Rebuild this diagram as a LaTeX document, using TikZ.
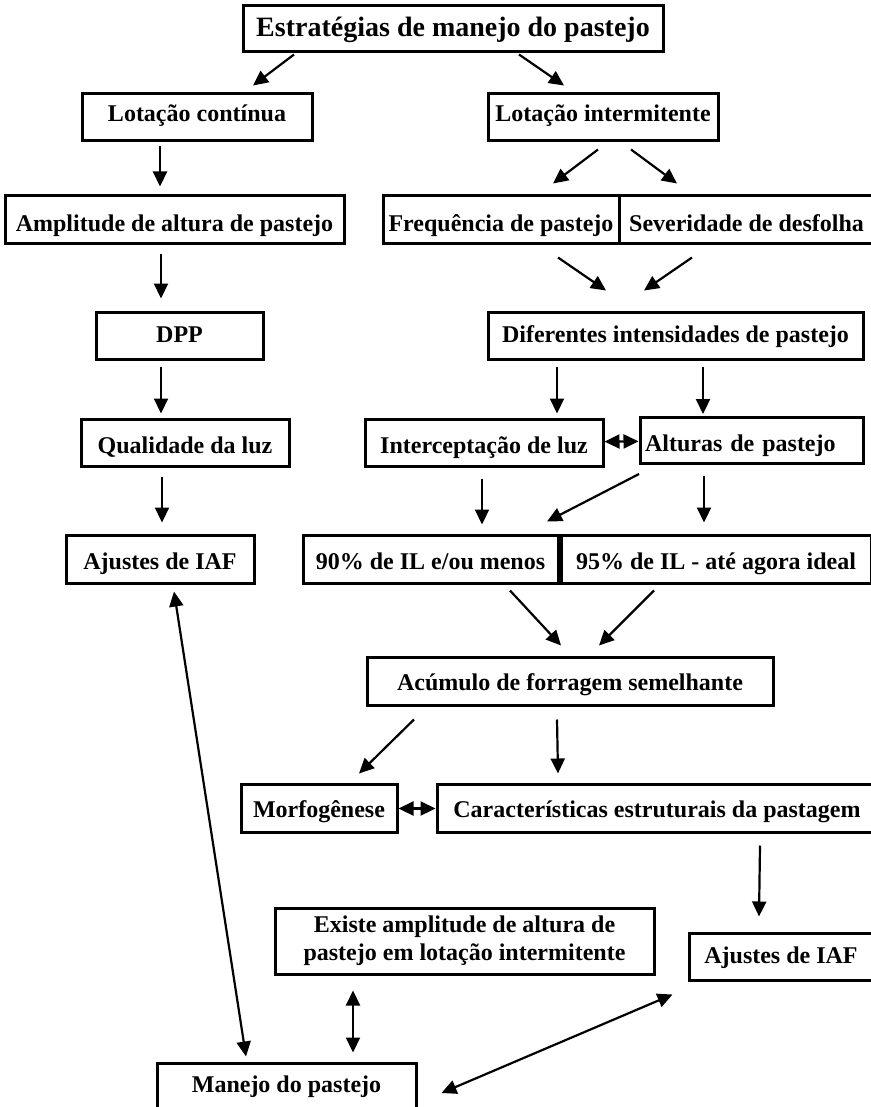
\documentclass[tikz,border=0pt]{standalone}
\usepackage{fontspec}
\setmainfont{Liberation Serif}
\usepackage{tikz}
\usetikzlibrary{
    positioning,
    arrows.meta
}

\begin{document}
\begin{tikzpicture}[
    x=1pt, y=-1pt,
    boxbase/.style={
        rectangle,
        draw,
        line width=3pt,
        align=center,
        minimum height=47pt,
        inner sep=3pt,
        font=\bfseries\fontsize{24}{28}\selectfont
    },
    box/.style={boxbase, text height=18pt, text depth=0pt},
    arrow/.style={-{Triangle[length=15pt,width=14pt]}, line width=2.2pt},
    darrow/.style={{Triangle[length=15pt,width=14pt]}-{Triangle[length=15pt,width=14pt]}, line width=2.2pt}
]

\useasboundingbox (0,0) rectangle (870,1107);

% left branch
\node[box, minimum width=420pt, minimum height=46pt, text height=16pt,
    font=\bfseries\fontsize{28}{32}\selectfont] (title) at (453,29)
    {Estratégias de manejo do pastejo};

\node[box, minimum width=230pt, text height=8pt] (lotcont) at (197,117.5)
    {Lotação contínua};
\node[box, minimum width=339pt, text height=24pt] (amplitude) at (174.5,219.5)
    {Amplitude de altura de pastejo};
\node[box, minimum width=167pt, text height=13pt] (dpp) at (179.5,335.5) {DPP};
\node[box, minimum width=208pt, text height=21pt] (qual) at (185,442.5)
    {Qualidade da luz};
\node[box, minimum width=188pt, minimum height=48pt, text height=21pt] (ajustesL)
    at (160,559) {Ajustes de IAF};

% right branch
\node[box, minimum width=230pt, text height=8pt] (lotint) at (603,117.5)
    {Lotação intermitente};
\node[box, minimum width=236pt, text height=24pt] (freq) at (501,219.5)
    {Frequência de pastejo};
\node[box, minimum width=255pt, text height=24pt] (sever) at (746.5,219.5)
    {Severidade de desfolha};
\node[box, minimum width=375pt, text height=13pt] (difer) at (675.5,336)
    {Diferentes intensidades de pastejo};
\node[box, minimum width=238pt, text height=21pt] (interc) at (484,442.5)
    {Interceptação de luz};
\node[box, text width=213pt, align=left, inner xsep=5pt, minimum height=46pt,
    text height=21pt] (alturas) at (751.5,440.5) {Alturas de pastejo};
\node[box, minimum width=255pt, minimum height=48pt, text height=21pt] (noventa)
    at (430.5,559) {90\% de IL e/ou menos};
\node[box, minimum width=310pt, minimum height=48pt, text height=21pt] (noventacinco)
    at (716,559) {95\% de IL - até agora ideal};
\node[box, minimum width=406pt, minimum height=48pt] (acumulo) at (570,681)
    {Acúmulo de forragem semelhante};
\node[box, minimum width=156pt, minimum height=48pt] (morfo) at (319,808.5)
    {Morfogênese};
\node[box, minimum width=440pt, minimum height=48pt] (caract) at (657,808.5)
    {Características estruturais da pastagem};

% bottom
\node[boxbase, minimum width=379pt, minimum height=66pt] (existe) at (464.5,941)
    {Existe amplitude de altura de\\pastejo em lotação intermitente};
\node[box, minimum width=184pt, text height=13pt] (ajustesR) at (781,956.5)
    {Ajustes de IAF};
\node[box, minimum width=259pt, minimum height=48pt, text height=10pt] (manejo)
    at (286.5,1087) {Manejo do pastejo};

% connectors
\draw[arrow] ([shift={(-159,1)}]title.south) -- ([shift={(56,-7)}]lotcont.north);
\draw[arrow] ([shift={(66,1)}]title.south) -- ([shift={(-39,-7)}]lotint.north);
\draw[arrow] ([shift={(-37,4)}]lotcont.south) -- ([shift={(-14.5,-8)}]amplitude.north);
\draw[arrow] ([shift={(-13.5,9)}]amplitude.south) -- ([shift={(-18.5,-12)}]dpp.north);
\draw[arrow] ([shift={(-18.5,6)}]dpp.south) -- ([shift={(-24,-4)}]qual.north);
\draw[arrow] ([shift={(-23,9)}]qual.south) -- ([shift={(2,-11)}]ajustesL.north);

\draw[arrow] ([shift={(-5,7)}]lotint.south) -- ([shift={(52,-11)}]freq.north);
\draw[arrow] ([shift={(28,7)}]lotint.south) -- ([shift={(-69.5,-11)}]sever.north);
\draw[arrow] ([shift={(57,13)}]freq.south) -- ([shift={(-69.5,-20.5)}]difer.north);
\draw[arrow] ([shift={(-54.5,13)}]sever.south) -- ([shift={(-31.5,-20.5)}]difer.north);
\draw[arrow] ([shift={(-118.5,5.5)}]difer.south) -- ([shift={(73,-4)}]interc.north);
\draw[arrow] ([shift={(27.5,5.5)}]difer.south) -- ([shift={(-48.5,-2)}]alturas.north);
\draw[darrow] (interc) -- (alturas);
\draw[arrow] ([shift={(-2,11)}]interc.south) -- ([shift={(51.5,-9)}]noventa.north);
\draw[arrow] ([shift={(-112.5,9)}]alturas.south) -- ([shift={(116.5,-12)}]noventa.north);
\draw[arrow] ([shift={(-47.5,11)}]alturas.south) -- ([shift={(-12,-11)}]noventacinco.north);
\draw[arrow] ([shift={(79.5,6)}]noventa.south) -- ([shift={(-9,-10)}]acumulo.north);
\draw[arrow] ([shift={(-62,6)}]noventacinco.south) -- ([shift={(29,-10)}]acumulo.north);
\draw[arrow] ([shift={(-156,13)}]acumulo.south) -- ([shift={(40,-9.5)}]morfo.north);
\draw[arrow] ([shift={(-13,13)}]acumulo.south) -- ([shift={(-99,-9.5)}]caract.north);
\draw[darrow] (morfo) -- (caract);
\draw[arrow] ([shift={(103,11.5)}]caract.south) -- ([shift={(-22,-15)}]ajustesR.north);

\draw[darrow] ([shift={(14,7)}]ajustesL.south) -- ([shift={(-40.5,-5)}]manejo.north);
\draw[darrow] ([shift={(-111.5,15)}]existe.south) -- ([shift={(66.5,-9)}]manejo.north);
\draw[darrow] ([shift={(-15,13)}]ajustesR.south west) -- ([shift={(24,6)}]manejo.east);

\end{tikzpicture}
\end{document}
